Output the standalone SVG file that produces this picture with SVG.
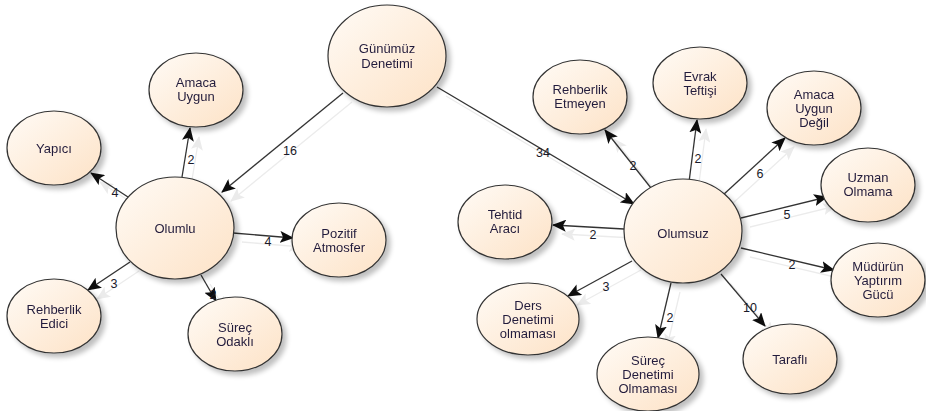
<svg xmlns="http://www.w3.org/2000/svg" width="926" height="411" viewBox="0 0 926 411">
<defs>
<linearGradient id="g" x1="0" y1="0" x2="1" y2="1">
<stop offset="0" stop-color="#fffbf6"/>
<stop offset="1" stop-color="#fde2c6"/>
</linearGradient>
<filter id="sh" x="-20%" y="-20%" width="150%" height="150%">
<feGaussianBlur in="SourceAlpha" stdDeviation="2.5"/>
<feOffset dx="4" dy="4" result="b"/>
<feComponentTransfer><feFuncA type="linear" slope="0.25"/></feComponentTransfer>
<feMerge><feMergeNode/><feMergeNode in="SourceGraphic"/></feMerge>
</filter>
<filter id="lsh" x="-20%" y="-20%" width="150%" height="150%">
<feOffset in="SourceAlpha" dx="9" dy="9"/>
<feComponentTransfer><feFuncA type="linear" slope="0.08"/></feComponentTransfer>
<feMerge><feMergeNode/><feMergeNode in="SourceGraphic"/></feMerge>
</filter>
<marker id="ah" markerUnits="userSpaceOnUse" markerWidth="14" markerHeight="12" viewBox="0 0 14 12" refX="13" refY="6" orient="auto">
<path d="M0,0 L14,6 L0,12 L3,6 Z" fill="#111"/>
</marker>
</defs>
<style>
.n ellipse{fill:url(#g);stroke:#333;stroke-width:1.2;}
.n text{font-family:"Liberation Sans",Arial,sans-serif;font-size:13px;fill:#231c3c;text-anchor:middle;}
.c line{stroke:#333;stroke-width:1.3;marker-end:url(#ah);}
.c text{font-family:"Liberation Sans",Arial,sans-serif;font-size:12.5px;fill:#1a1a2a;text-anchor:middle;}
</style>
<rect width="926" height="411" fill="#fff"/>
<g id="connectors" class="c">
<g filter="url(#lsh)">
<line x1="343" y1="93" x2="222" y2="192"/>
<line x1="437" y1="87" x2="634" y2="204"/>
<line x1="182" y1="177" x2="190" y2="128"/>
<line x1="128" y1="197" x2="91" y2="173"/>
<line x1="233" y1="233" x2="293" y2="238"/>
<line x1="130" y1="262" x2="88" y2="290"/>
<line x1="201" y1="275" x2="216" y2="301"/>
<line x1="651" y1="188" x2="605" y2="130"/>
<line x1="689" y1="182" x2="697" y2="120"/>
<line x1="723" y1="195" x2="785" y2="138"/>
<line x1="741" y1="218" x2="827" y2="197"/>
<line x1="624" y1="229" x2="553" y2="225"/>
<line x1="741" y1="248" x2="834" y2="270"/>
<line x1="632" y1="261" x2="568" y2="296"/>
<line x1="671" y1="283" x2="658" y2="338"/>
<line x1="721" y1="274" x2="765" y2="326"/>
</g>
<text x="290" y="155">16</text>
<text x="543" y="157">34</text>
<text x="191" y="164">2</text>
<text x="115" y="197">4</text>
<text x="268" y="246">4</text>
<text x="114" y="288">3</text>
<text x="213" y="299">2</text>
<text x="633" y="170">2</text>
<text x="698" y="163">2</text>
<text x="760" y="178">6</text>
<text x="787" y="219">5</text>
<text x="593" y="239">2</text>
<text x="792" y="269">2</text>
<text x="606" y="291">3</text>
<text x="670" y="322">2</text>
<text x="750" y="312">10</text>
</g>
<g id="gunumuz" class="n" filter="url(#sh)"><ellipse cx="387" cy="56" rx="59" ry="51"/><text x="387" y="53">Günümüz</text><text x="387" y="68">Denetimi</text></g>
<g id="olumlu" class="n" filter="url(#sh)"><ellipse cx="175" cy="228" rx="59" ry="51"/><text x="175" y="233">Olumlu</text></g>
<g id="olumsuz" class="n" filter="url(#sh)"><ellipse cx="683" cy="231" rx="59" ry="52"/><text x="683" y="238">Olumsuz</text></g>
<g id="amaca-uygun" class="n" filter="url(#sh)"><ellipse cx="196" cy="90" rx="47" ry="37"/><text x="196" y="87">Amaca</text><text x="196" y="101">Uygun</text></g>
<g id="yapici" class="n" filter="url(#sh)"><ellipse cx="54" cy="148" rx="47" ry="37"/><text x="54" y="153">Yapıcı</text></g>
<g id="pozitif" class="n" filter="url(#sh)"><ellipse cx="339" cy="240" rx="47" ry="37"/><text x="339" y="238">Pozitif</text><text x="339" y="252">Atmosfer</text></g>
<g id="rehberlik-edici" class="n" filter="url(#sh)"><ellipse cx="54" cy="316" rx="47" ry="37"/><text x="54" y="314">Rehberlik</text><text x="54" y="328">Edici</text></g>
<g id="surec-odakli" class="n" filter="url(#sh)"><ellipse cx="235" cy="334" rx="47" ry="37"/><text x="235" y="332">Süreç</text><text x="235" y="346">Odaklı</text></g>
<g id="rehberlik-etmeyen" class="n" filter="url(#sh)"><ellipse cx="580" cy="97" rx="47" ry="37"/><text x="580" y="94">Rehberlik</text><text x="580" y="108">Etmeyen</text></g>
<g id="evrak" class="n" filter="url(#sh)"><ellipse cx="700" cy="83" rx="47" ry="36"/><text x="700" y="81">Evrak</text><text x="700" y="95">Teftişi</text></g>
<g id="amaca-uygun-degil" class="n" filter="url(#sh)"><ellipse cx="814" cy="108" rx="47" ry="37"/><text x="814" y="99">Amaca</text><text x="814" y="113">Uygun</text><text x="814" y="127">Değil</text></g>
<g id="uzman" class="n" filter="url(#sh)"><ellipse cx="868" cy="185" rx="47" ry="37"/><text x="868" y="182">Uzman</text><text x="868" y="196">Olmama</text></g>
<g id="tehtid" class="n" filter="url(#sh)"><ellipse cx="505" cy="222" rx="47" ry="37"/><text x="505" y="219">Tehtid</text><text x="505" y="233">Aracı</text></g>
<g id="mudurun" class="n" filter="url(#sh)"><ellipse cx="878" cy="280" rx="47" ry="37"/><text x="878" y="271">Müdürün</text><text x="878" y="285">Yaptırım</text><text x="878" y="299">Gücü</text></g>
<g id="ders" class="n" filter="url(#sh)"><ellipse cx="528" cy="319" rx="51" ry="36"/><text x="528" y="310">Ders</text><text x="528" y="324">Denetimi</text><text x="528" y="338">olmaması</text></g>
<g id="surec-denetimi" class="n" filter="url(#sh)"><ellipse cx="648" cy="374" rx="51" ry="37"/><text x="648" y="365">Süreç</text><text x="648" y="379">Denetimi</text><text x="648" y="393">Olmaması</text></g>
<g id="tarafli" class="n" filter="url(#sh)"><ellipse cx="790" cy="359" rx="47" ry="35"/><text x="790" y="364">Taraflı</text></g>
</svg>
